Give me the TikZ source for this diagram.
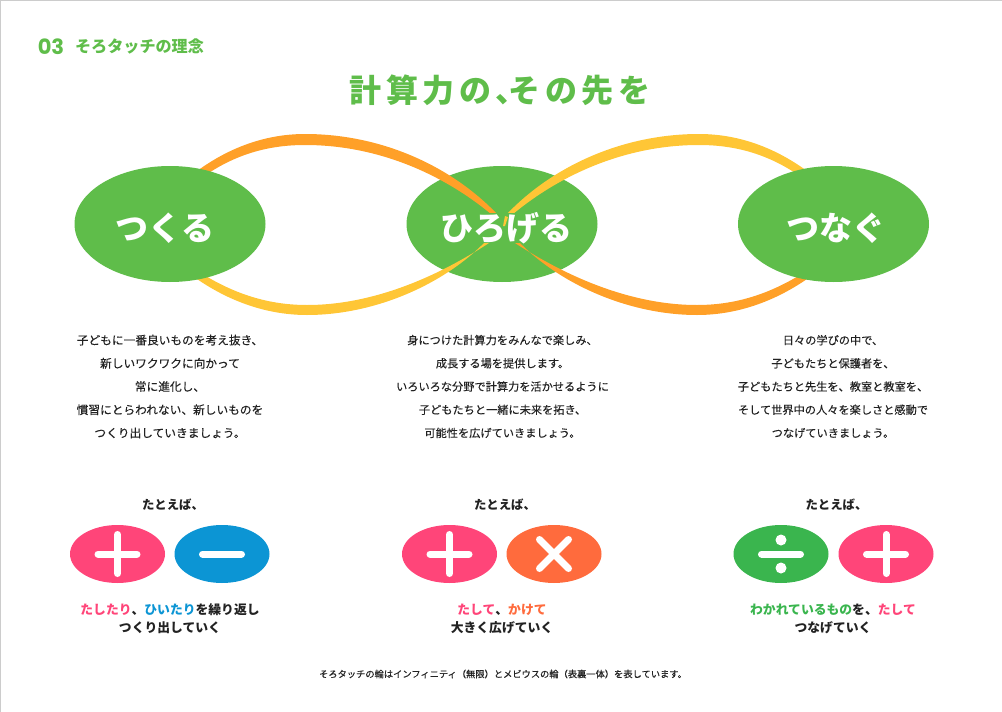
\documentclass[tikz,border=0pt]{standalone}
\usepackage{fontspec}
\setmainfont{Noto Sans CJK JP}
\newfontfamily\roundfont{Poppins}
\newfontfamily\titlefont[LetterSpace=14]{Noto Sans CJK JP}
\newfontfamily\mediumfont[FakeBold=0.2]{Noto Sans CJK JP}
\usetikzlibrary{calc,shapes.geometric,positioning}
\definecolor{leaf}{HTML}{5FBD4A}
\definecolor{ribbonA}{HTML}{FFA028}
\definecolor{ribbonB}{HTML}{FFC636}
\definecolor{pinkop}{HTML}{FF4579}
\definecolor{blueop}{HTML}{0C95D4}
\definecolor{redop}{HTML}{FF6B3D}
\definecolor{greenop}{HTML}{3AB54E}
\definecolor{ink}{HTML}{222222}
\tikzset{
  bigoval/.style={ellipse,fill=leaf,minimum width=191pt,minimum height=116pt,inner sep=0pt},
  opoval/.style={ellipse,minimum width=95pt,minimum height=58pt,inner sep=0pt},
  signline/.style={white,line width=7pt,line cap=round},
  biglabel/.style={text=white,inner sep=0pt,font=\fontsize{33}{33}\selectfont\bfseries},
  bodytext/.style={align=center,inner sep=0pt,text=ink,font=\mediumfont\fontsize{11.2}{23.2}\selectfont},
  sotext/.style={inner sep=0pt,text=ink,font=\fontsize{12.4}{12.4}\selectfont\bfseries},
  opcaption/.style={align=center,inner sep=0pt,text=ink,font=\fontsize{12.8}{18}\selectfont\bfseries}
}
\begin{document}
\begin{tikzpicture}[x=1pt,y=-1pt]
  \useasboundingbox (0,0) rectangle (1002,712);
  \draw[black!20,line width=1pt] (0.5,712) -- (0.5,0.5) -- (1002,0.5);

  \node[inner sep=0pt,text=leaf,font=\roundfont\fontsize{21}{21}\selectfont\bfseries] (secnum) at (51,46.5) {03};
  \node[inner sep=0pt,text=leaf,font=\fontsize{16.1}{16}\selectfont\bfseries] (sectitle) at (139.5,46.5) {そろタッチの理念};
  \node[inner sep=0pt,text=leaf,font=\titlefont\fontsize{32}{32}\selectfont\bfseries] (maintitle) at (500,90) {計算力の、\kern-19pt その先を};

  \node[bigoval] (hirogeru) at (502,224) {};

  % ribbons
  \fill[ribbonA] (188,178) .. controls (225,148) and (265,134) .. (305,134)
    .. controls (380,134) and (450,165) .. (497,214) -- (517,240)
    .. controls (560,285) and (630,315) .. (697,315)
    .. controls (739,315) and (779,300) .. (814,274)
    -- (808,270) .. controls (774,292) and (739,305) .. (697,305)
    .. controls (629,305) and (564,275) .. (515,243) -- (491,214)
    .. controls (440,172) and (375,145) .. (305,145)
    .. controls (265,145) and (230,156) .. (196,182) -- cycle;
  \fill[ribbonB] (190,274) .. controls (225,300) and (265,315) .. (307,315)
    .. controls (374,315) and (444,285) .. (487,240) -- (507,214)
    .. controls (554,165) and (624,134) .. (699,134)
    .. controls (739,134) and (779,148) .. (816,178)
    -- (808,182) .. controls (774,156) and (739,145) .. (699,145)
    .. controls (629,145) and (564,172) .. (513,214) -- (489,243)
    .. controls (440,275) and (375,305) .. (307,305)
    .. controls (265,305) and (230,292) .. (196,270) -- cycle;
  % gap round the middle word
  \fill[leaf] (478,213) rectangle (526,243);
  \fill[ribbonB] (505,216) -- (508,217) -- (505,226) -- (503,226) -- cycle;

  \node[bigoval] (tsukuru) at (170,224) {};
  \node[bigoval] (tsunagu) at (833.5,224) {};

  \node[biglabel] (tsukurulabel) at (165,228) {つくる};
  \node[biglabel] (hirogerulabel) at (506.5,228) {ひろげる};
  \node[biglabel] (tsunagulabel) at (836,228) {つなぐ};

  \node[bodytext,font=\mediumfont\fontsize{11.7}{23.2}\selectfont] (bodya) at (170,386.5) {子どもに一番良いものを考え抜き、\\新しいワクワクに向かって\\常に進化し、\\慣習にとらわれない、新しいものを\\つくり出していきましょう。};
  \node[bodytext] (bodyb) at (502.5,386.5) {身につけた計算力をみんなで楽しみ、\\成長する場を提供します。\\いろいろな分野で計算力を活かせるように\\子どもたちと一緒に未来を拓き、\\可能性を広げていきましょう。};
  \node[bodytext] (bodyc) at (833,386.5) {日々の学びの中で、\\子どもたちと保護者を、\\子どもたちと先生を、教室と教室を、\\そして世界中の人々を楽しさと感動で\\つなげていきましょう。};

  \node[sotext] (soa) at (173,505) {たとえば、};
  \node[sotext] (sob) at (505,505) {たとえば、};
  \node[sotext] (soc) at (836.5,505) {たとえば、};

  \node[opoval,fill=pinkop] (plusa) at (117.5,554) {};
  \node[opoval,fill=blueop] (minusa) at (222,554) {};
  \node[opoval,fill=pinkop] (plusb) at (449.5,554) {};
  \node[opoval,fill=redop] (timesb) at (554,554) {};
  \node[opoval,fill=greenop] (divc) at (781,554) {};
  \node[opoval,fill=pinkop] (plusc) at (886,554) {};

  \foreach \n in {plusa,plusb,plusc,minusa,divc}
    \draw[signline] ($(\n)-(19.5,0)$) -- ($(\n)+(19.5,0)$);
  \foreach \n in {plusa,plusb,plusc}
    \draw[signline] ($(\n)-(0,19.5)$) -- ($(\n)+(0,19.5)$);
  \draw[signline] ($(timesb)+(-14.5,-14.5)$) -- ($(timesb)+(14.5,14.5)$);
  \draw[signline] ($(timesb)+(-14.5,14.5)$) -- ($(timesb)+(14.5,-14.5)$);
  \fill[white] ($(divc)+(0,-14)$) circle (5.5);
  \fill[white] ($(divc)+(0,14)$) circle (5.5);

  \node[opcaption] (capa) at (170,618.5) {\textcolor{pinkop}{たしたり}、\textcolor{blueop}{ひいたり}を繰り返し\\つくり出していく};
  \node[opcaption] (capb) at (502,618.5) {\textcolor{pinkop}{たして}、\textcolor{redop}{かけて}\\大きく広げていく};
  \node[opcaption] (capc) at (833,618.5) {\textcolor{greenop}{わかれているもの}を、\textcolor{pinkop}{たして}\\つなげていく};

  \node[inner sep=0pt,text=ink,font=\mediumfont\fontsize{9.25}{10}\selectfont] (footnote) at (503,674) {そろタッチの輪はインフィニティ（無限）とメビウスの輪（表裏一体）を表しています。};
\end{tikzpicture}
\end{document}
